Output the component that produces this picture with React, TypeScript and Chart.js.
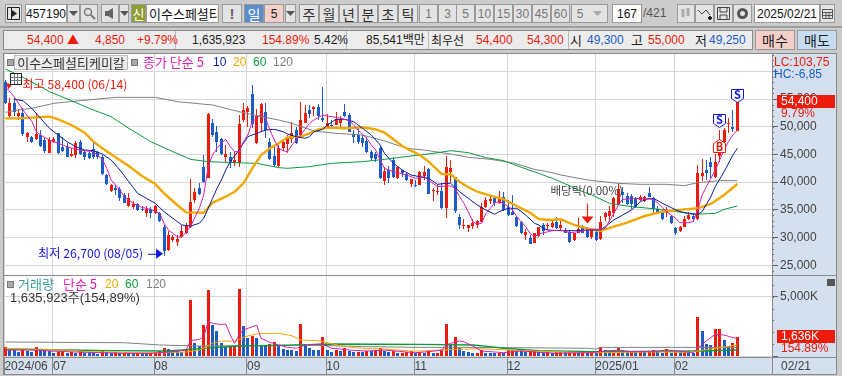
import React, { useEffect, useRef } from 'react';
import { Chart, registerables } from 'chart.js';
Chart.register(...registerables);

const FONT = '"Noto Sans CJK KR", "Noto Sans", sans-serif';
const NUM = '"Liberation Sans", "Noto Sans CJK KR", sans-serif';
const RED = '#ec1c0c';
const BLUE = '#1b5cc9';
const PANEL = '#d5e0ee';
const GRID = '#d6d6d6';
const C5 = '#d81fb0';
const C10 = '#0a1e9e';
const C20 = '#f0a800';
const C60 = '#0a9a3a';
const C120 = '#808080';

const opens = [58150,51950,54200,51950,52400,48200,48200,47700,48500,47600,45300,47300,48800,46400,46300,44700,44900,47300,45500,45200,45900,45500,44600,41300,38450,39000,38700,37650,35700,35550,36050,35100,34500,35100,34350,34350,31950,27750,29550,29250,30050,30750,31850,36750,39000,42650,40800,50600,49000,47800,44500,44450,43400,43400,51200,52600,55900,47000,50600,52600,47300,44700,42900,46100,46900,47700,49400,48500,50700,53000,53250,53600,51550,49700,50350,50350,50700,52600,52100,48600,48500,48000,47400,45400,45100,46200,40200,42200,44000,40700,42200,41450,39650,39500,39500,41150,42350,38450,38200,38450,35400,41800,40850,33750,32150,31800,32050,32250,32850,35450,36650,37050,36150,37350,35450,34600,33750,32750,30400,30000,28950,30250,32300,32000,31950,32850,31650,31350,31050,29550,30900,32050,31550,30050,31050,29700,33750,33950,34350,36000,38250,37500,37500,37050,36750,36650,38100,37050,35100,34850,34350,33900,31650,31150,31950,33300,33900,33300,41100,42200,43700,40950,44700,47300,50500,50000,49300];
const highs = [58400,55100,55100,53150,53300,49100,48300,52400,49400,47900,48100,48100,48900,48200,47000,46100,47400,47600,45800,45500,47500,45700,44900,41500,39650,39500,39050,37950,38100,36650,36200,35700,35700,35550,35850,34650,32250,31250,30450,30450,32250,32550,40550,38850,39750,44900,52400,51350,50200,47900,46700,45350,45500,52100,54350,53750,57500,53150,54200,54200,47900,46500,46700,47600,48500,50900,50000,54400,53900,53900,53750,54100,57100,52250,51200,52600,51950,54100,52400,49400,50300,48500,48100,45800,45500,46400,42650,42900,44500,42900,42200,41600,40500,40400,42050,42900,42500,39000,39650,39750,44700,44000,40950,34250,33350,32250,33250,33150,36300,37350,37650,37350,38400,38150,36750,37650,33900,32950,31450,30450,30900,31850,32550,32700,33250,33750,33150,31650,31350,30900,33450,32250,31950,31450,31250,33900,34650,35700,37350,39750,39050,37950,37800,37250,37650,37500,39050,37250,35700,34950,35550,34050,31850,32050,33900,34650,34500,43100,44100,44000,44450,45100,49400,49700,51500,53000,55000];
const lows = [54100,51800,51950,51200,48300,47300,47000,47600,46400,45300,45200,47000,45100,45500,44500,44500,44300,44900,44000,44100,44100,44100,41300,39550,38300,37700,36650,36150,35550,35100,34850,34800,33750,33600,34250,32850,26700,27600,29250,28550,29850,30650,31650,36300,37650,39750,40700,48100,45500,44900,43700,42600,42900,42800,50900,50000,49800,46900,49000,47900,44000,42650,42650,45700,45300,47000,46900,48200,50600,51500,51950,51200,50900,49500,49700,50250,50000,51800,49000,47000,46900,46400,45200,44000,43700,40550,39500,39900,40700,40550,40850,40200,39200,39050,39400,40400,37800,36600,37650,35100,33600,39800,34500,31550,31550,31050,31450,31750,32750,35400,36050,35700,36050,34850,33900,34000,31950,30650,29550,28850,28950,30150,30400,31400,31650,31500,31350,30750,29050,29450,30750,30750,29850,29700,29450,29550,33050,32850,33650,35850,36150,35850,35100,35250,36650,36450,37250,34050,34350,33150,33750,32450,30450,31000,31850,33150,32850,33150,40250,40400,40700,40700,43700,47000,48800,49100,49250];
const closes = [54200,54200,52700,52550,48700,48800,47300,48700,46500,45600,47600,47700,45300,45700,44600,45100,47000,45100,44600,44300,44500,44500,41500,39650,39500,38600,37050,36300,37050,36050,34950,34950,35100,34500,35700,33000,27600,30450,30100,29750,31250,32250,36450,38150,37800,40100,52300,48500,47300,45050,45100,43400,44000,50400,53000,53300,50500,52000,54100,49400,44250,43000,46100,47200,48200,48900,47000,51200,52500,52250,53500,52000,51200,50600,50200,51350,51400,51950,49100,48100,47200,47000,45500,44300,44100,40700,42000,40700,40850,42650,41600,40400,40500,39350,41750,41750,37850,38650,38450,35400,42800,42550,34850,32250,32250,32250,32650,32950,35450,36800,36900,36150,36950,34950,34050,34150,32150,30750,30950,28850,30900,31850,31250,32200,32550,31650,32250,30850,29250,30750,31550,30900,30150,31350,29550,32750,34350,34850,37050,38700,37650,36050,36050,35550,37250,37350,37350,35100,34600,33300,34650,32650,30850,31850,33300,34050,33300,41600,41600,41600,42650,43700,45500,49400,50700,49550,54400];

const ma5: [number, number][] = [[0,57230],[2,55420],[4,53000],[6,51000],[7,49100],[8,48500],[10,47600],[12,47000],[14,46400],[16,45920],[18,45670],[20,45490],[22,44110],[23,42490],[24,40380],[26,38570],[27,37370],[29,36170],[31,35440],[33,35080],[35,34360],[36,32560],[37,31350],[39,30150],[40,30030],[42,31960],[44,35270],[45,37670],[46,42790],[47,44890],[48,46100],[49,47000],[50,47720],[51,46400],[52,45490],[53,45490],[54,47300],[55,48500],[56,50910],[57,51510],[58,52290],[59,51510],[60,49400],[61,47600],[62,46100],[63,45670],[64,45490],[65,46700],[67,48500],[69,50610],[70,51210],[72,52110],[73,51930],[75,51690],[77,51330],[78,51090],[79,50310],[80,49400],[82,47900],[83,46700],[84,45790],[85,43990],[86,42490],[88,41880],[89,41700],[91,41280],[93,40680],[95,40980],[96,40380],[98,39180],[100,39300],[101,39300],[102,38870],[103,37370],[104,36170],[105,34660],[106,32860],[107,32440],[108,32560],[109,34360],[110,35270],[111,36290],[112,36470],[113,36170],[114,35570],[115,34970],[116,33760],[117,32860],[118,31960],[119,30750],[120,30150],[121,30630],[124,31230],[126,31350],[128,30870],[130,31050],[132,31350],[134,31470],[136,31650],[138,34360],[139,35870],[140,36890],[143,37070],[145,36950],[147,36890],[148,36170],[150,34660],[152,33460],[153,32680],[155,32680],[156,32860],[157,34960],[158,37670],[159,39180],[161,42190],[162,43990],[163,45790],[164,47300],[165,48500],[166,49400]];
const ma10: [number, number][] = [[2,54940],[4,54700],[6,53320],[8,51510],[10,49710],[12,48500],[14,47300],[16,46400],[18,45790],[20,45670],[22,45070],[24,43990],[26,42190],[28,40080],[30,37970],[32,37070],[34,36170],[36,34660],[38,33460],[40,32260],[42,32080],[44,32560],[45,33460],[46,35270],[47,37070],[48,38870],[49,40380],[50,42190],[51,43690],[53,45790],[55,48200],[57,48800],[59,49400],[61,49530],[63,49100],[64,48680],[66,48200],[68,47900],[69,48200],[70,49100],[72,49530],[73,50310],[75,51330],[77,51330],[79,50910],[81,49710],[83,48500],[85,46700],[86,45190],[88,43390],[90,42190],[92,41280],[94,40980],[96,40680],[98,39600],[100,39780],[101,39780],[103,38270],[105,37070],[107,35870],[109,34960],[111,34180],[112,34660],[114,35270],[116,35270],[118,34060],[120,32560],[121,32260],[122,31650],[123,31350],[126,31230],[129,31230],[132,31350],[135,31350],[136,31960],[138,33160],[140,34060],[142,34960],[144,36470],[146,37070],[147,37070],[149,36170],[151,35390],[153,34660],[155,34360],[157,34180],[158,34660],[160,37370],[161,39180],[163,41880],[165,44890],[166,46100]];
const ma20: [number, number][] = [[0,51510],[3,51510],[6,51630],[10,51810],[12,51330],[15,50310],[18,48920],[20,47300],[22,46100],[25,44470],[28,42910],[31,41100],[34,39660],[36,37970],[39,35870],[41,34540],[45,34480],[47,36290],[50,37370],[52,38270],[54,39780],[56,42490],[58,44890],[60,46100],[62,47000],[64,48080],[67,48200],[69,48800],[71,49530],[73,49830],[77,49710],[81,49890],[84,49530],[86,48920],[88,47720],[90,46520],[92,45670],[94,44890],[96,43690],[99,41460],[101,41400],[103,40080],[105,39060],[107,38270],[110,37550],[113,36890],[116,35690],[119,34480],[121,33340],[123,33160],[126,33280],[129,32260],[132,31650],[135,31230],[138,31960],[141,32680],[145,33880],[149,34660],[154,35080],[157,35270],[160,36050],[163,37670],[166,39660]];
const ma60: [number, number][] = [[0,60420],[3,59330],[8,57230],[10,56320],[15,54700],[19,53320],[24,51810],[28,49710],[33,47300],[38,45490],[42,44110],[46,43690],[52,43510],[57,43390],[62,42610],[64,42490],[69,42790],[74,43390],[81,43690],[86,44110],[92,44710],[97,45190],[101,45670],[105,45310],[109,44410],[113,43870],[117,42670],[121,41580],[125,40380],[130,38570],[133,37670],[137,36170],[142,35570],[146,35270],[151,34850],[156,34180],[161,34360],[163,35080],[166,35690]];
const ma120: [number, number][] = [[0,52590],[3,53020],[6,53320],[11,54220],[17,54700],[25,55300],[34,55300],[39,54520],[47,53920],[53,52710],[60,51510],[62,51210],[65,50610],[70,49220],[75,48800],[81,48500],[86,47420],[91,46100],[95,45790],[101,45070],[105,44470],[110,44110],[115,43510],[120,42300],[123,41880],[126,41280],[132,40380],[139,39780],[144,39600],[150,39600],[154,39360],[157,39900],[162,40260],[166,40260]];

const volume = [780,520,480,300,560,380,370,720,500,480,390,230,340,420,280,300,260,420,280,270,260,170,380,320,280,300,230,290,260,230,290,270,240,290,340,420,640,560,460,430,300,480,4680,1080,850,2600,5550,2600,2100,1070,730,730,850,5650,2530,1490,1720,1490,930,850,1010,1200,930,560,500,480,420,2700,930,650,500,480,1570,500,360,500,420,700,420,370,370,340,420,380,500,650,420,370,450,280,280,360,390,230,300,280,500,280,280,500,2700,930,1630,700,420,310,280,280,500,280,270,260,290,225,500,530,430,390,340,380,400,330,270,330,270,300,360,300,300,330,300,300,280,300,270,730,500,420,500,700,500,365,400,300,330,300,380,500,310,250,590,280,420,400,430,300,280,3300,2100,1010,930,2270,2280,1350,850,1070,1636];
const volMa5: [number, number][] = [[0,500],[4,500],[7,500],[10,420],[14,365],[18,310],[22,280],[27,225],[33,225],[38,365],[41,500],[42,1300],[44,1400],[45,1630],[46,2900],[47,2750],[49,2650],[50,2700],[51,1770],[52,1070],[53,1770],[54,2200],[56,2470],[57,2600],[58,1500],[60,1150],[62,930],[64,730],[66,650],[68,930],[70,980],[72,1010],[74,650],[76,590],[78,500],[82,420],[86,500],[90,365],[93,280],[96,365],[99,500],[100,930],[101,1070],[103,1260],[104,1200],[106,840],[108,420],[113,280],[117,420],[121,310],[125,225],[133,280],[136,420],[139,500],[142,365],[147,365],[150,500],[154,365],[156,280],[157,650],[159,1290],[161,1830],[163,1770],[165,1550],[166,1490]];
const volMa20: [number, number][] = [[0,650],[3,590],[9,560],[14,500],[18,365],[24,340],[29,280],[36,280],[41,340],[44,500],[47,1070],[49,1260],[52,1260],[55,1690],[57,1850],[59,1910],[62,1910],[65,1710],[67,1350],[71,1290],[73,1120],[77,790],[81,650],[86,590],[92,420],[94,420],[99,500],[102,560],[108,620],[114,500],[120,420],[127,310],[134,280],[141,310],[147,340],[155,310],[157,420],[161,650],[166,930]];
const volMa60: [number, number][] = [[0,590],[14,500],[24,450],[37,420],[44,620],[53,840],[63,900],[74,1010],[94,980],[106,930],[110,790],[113,650],[121,450],[134,365],[157,420],[166,500]];
const volMa120: [number, number][] = [[0,1180],[27,1120],[35,930],[44,840],[67,930],[82,790],[94,730],[106,730],[132,650],[134,590],[135,730],[157,730],[166,730]];

const monthBars = [0, 11, 34, 55, 73, 93, 114, 134, 152];
const monthLabels = ['2024/06', '07', '08', '09', '10', '11', '12', '2025/01', '02'];
const priceTicks = [25000, 30000, 35000, 40000, 45000, 50000, 55000, 60000];
const volumeTicks = [0, 5000];
const signals = [
  { bar: 166, price: 54400, kind: 'S' },
  { bar: 162, price: 50000, kind: 'S' },
  { bar: 162, price: 47720, kind: 'B' },
];
const highMark = { bar: 0, price: 58400, text: '최고 58,400 (06/14)' };
const lowMark = { bar: 36, price: 26700, text: '최저 26,700 (08/05)' };
const dividend = { bar: 132, price: 32550, text: '배당락(0.00%)' };

const xMin = -0.295;
const xMax = 173.86;
const barXs = opens.map((_, i) => i);
const xScale = (withLabels: boolean) => ({
  type: 'linear',
  min: xMin,
  max: xMax,
  offset: false,
  bounds: 'data',
  afterBuildTicks: (s: any) => {
    s.ticks = monthBars.map((v) => ({ value: v - 0.2 }));
  },
  afterFit: (s: any) => {
    s.height = withLabels ? 18 : 0;
    s.paddingLeft = 0;
    s.paddingRight = 0;
  },
  grid: { color: GRID, offset: false, drawTicks: withLabels, tickLength: 18, tickColor: '#8a8a8a' },
  border: { display: false },
  ticks: withLabels
    ? {
        display: true,
        autoSkip: false,
        maxRotation: 0,
        minRotation: 0,
        align: 'start',
        padding: -16,
        color: '#444',
        font: { family: NUM, size: 12 },
        callback: (_: any, i: number) => monthLabels[i],
      }
    : { display: false },
});
const yFit = (s: any) => {
  s.width = 65;
  s.paddingTop = 0;
  s.paddingBottom = 0;
};

const snapBars = {
  id: 'snapBars',
  beforeDatasetsDraw(chart: any) {
    chart.data.datasets.forEach((ds: any, idx: number) => {
      if (ds.type === 'line') return;
      chart.getDatasetMeta(idx).data.forEach((el: any) => {
        el.x = Math.floor(el.x) + 0.5;
        el.y = Math.round(el.y);
        el.base = Math.round(el.base);
        if (el.y === el.base) el.base = el.y + 1;
      });
    });
  },
};

const frame = (minorStep: number, yId: string, drawExtra: (c: any, ctx: CanvasRenderingContext2D) => void) => ({
  id: 'frame',
  beforeDraw(chart: any) {
    const { ctx, chartArea: a, width, height } = chart;
    ctx.save();
    ctx.fillStyle = PANEL;
    ctx.fillRect(a.right, 0, width - a.right, height);
    if (height > a.bottom) ctx.fillRect(0, a.bottom, width, height - a.bottom);
    ctx.restore();
  },
  afterDraw(chart: any) {
    const { ctx, chartArea: a, width, height } = chart;
    const s = chart.scales[yId];
    ctx.save();
    ctx.strokeStyle = '#666';
    ctx.lineWidth = 1;
    ctx.beginPath();
    for (let v = Math.ceil(s.min / minorStep) * minorStep; v < s.max; v += minorStep) {
      const y = Math.round(s.getPixelForValue(v)) + 0.5;
      ctx.moveTo(a.right, y);
      ctx.lineTo(a.right + 2, y);
    }
    ctx.stroke();
    drawExtra(chart, ctx);
    ctx.strokeStyle = '#8a8a8a';
    ctx.beginPath();
    ctx.moveTo(0.5, 0);
    ctx.lineTo(0.5, height);
    ctx.moveTo(a.right + 0.5, 0);
    ctx.lineTo(a.right + 0.5, height);
    ctx.moveTo(width - 0.5, 0);
    ctx.lineTo(width - 0.5, height);
    if (height > a.bottom) {
      ctx.moveTo(0, a.bottom + 0.5);
      ctx.lineTo(width, a.bottom + 0.5);
      ctx.moveTo(0, height - 0.5);
      ctx.lineTo(width, height - 0.5);
    }
    ctx.moveTo(0, 0.5);
    ctx.lineTo(width, 0.5);
    ctx.stroke();
    ctx.restore();
  },
});

const lastBox = (ctx: CanvasRenderingContext2D, a: any, y: number, label: string, sub: string) => {
  const top = Math.round(y) - 7;
  ctx.fillStyle = RED;
  ctx.fillRect(a.right + 5, top, 58, 13);
  ctx.textBaseline = 'middle';
  ctx.textAlign = 'left';
  ctx.font = `12px ${NUM}`;
  ctx.fillStyle = '#fff';
  ctx.fillText(label, a.right + 9, top + 7);
  ctx.fillStyle = RED;
  ctx.fillText(sub, a.right + 9, top + 19);
};

const drawPriceExtras = (chart: any, ctx: CanvasRenderingContext2D) => {
  const x = chart.scales.x;
  const y = chart.scales.y;
  const a = chart.chartArea;
  const hx = x.getPixelForValue(highMark.bar);
  const hy = y.getPixelForValue(highMark.price);
  ctx.font = `12.2px ${FONT}`;
  ctx.textBaseline = 'middle';
  ctx.textAlign = 'left';
  ctx.fillStyle = RED;
  ctx.fillText(highMark.text, hx + 17, hy + 4);
  ctx.beginPath();
  ctx.moveTo(hx + 1, hy + 3);
  ctx.lineTo(hx + 7, hy + 4);
  ctx.lineTo(hx + 3, hy + 9);
  ctx.closePath();
  ctx.fill();
  const lx = x.getPixelForValue(lowMark.bar);
  const ly = y.getPixelForValue(lowMark.price);
  ctx.fillStyle = '#1414e0';
  ctx.fillText(lowMark.text, lx - 126, ly - 2);
  ctx.fillRect(lx - 16, ly - 2, 10, 1);
  ctx.beginPath();
  ctx.moveTo(lx - 1, ly - 2);
  ctx.lineTo(lx - 8, ly - 7);
  ctx.lineTo(lx - 8, ly + 3);
  ctx.closePath();
  ctx.fill();
  const dx = Math.floor(x.getPixelForValue(dividend.bar)) + 0.5;
  const dy = y.getPixelForValue(dividend.price);
  ctx.fillStyle = '#444';
  ctx.font = `11.5px ${FONT}`;
  ctx.fillText(dividend.text, dx - 37, dy - 33);
  ctx.fillStyle = RED;
  ctx.fillRect(dx - 0.5, dy - 20, 1, 14);
  ctx.beginPath();
  ctx.moveTo(dx, dy);
  ctx.lineTo(dx - 6, dy - 7);
  ctx.lineTo(dx + 6, dy - 7);
  ctx.closePath();
  ctx.fill();
  signals.forEach((s) => {
    const sx = Math.floor(x.getPixelForValue(s.bar)) + 0.5;
    const sy = Math.round(y.getPixelForValue(s.price));
    const dir = s.kind === 'S' ? -1 : 1;
    const c = s.kind === 'S' ? '#1414e0' : RED;
    ctx.beginPath();
    ctx.moveTo(sx, sy + 0.5);
    ctx.lineTo(sx - 6, sy + dir * 4 + 0.5);
    ctx.lineTo(sx - 6, sy + dir * 13 + 0.5);
    ctx.lineTo(sx + 6, sy + dir * 13 + 0.5);
    ctx.lineTo(sx + 6, sy + dir * 4 + 0.5);
    ctx.closePath();
    ctx.fillStyle = '#fff';
    ctx.fill();
    ctx.strokeStyle = c;
    ctx.lineWidth = 1;
    ctx.stroke();
    ctx.fillStyle = c;
    ctx.font = `bold 11px ${FONT}`;
    ctx.textAlign = 'center';
    ctx.fillText(s.kind, sx, sy + dir * 7.5);
    ctx.textAlign = 'left';
  });
  lastBox(ctx, a, y.getPixelForValue(closes[closes.length - 1]), '54,400', '9.79%');
};

const drawVolExtras = (chart: any, ctx: CanvasRenderingContext2D) => {
  const y = chart.scales.y;
  lastBox(ctx, chart.chartArea, y.getPixelForValue(volume[volume.length - 1]), '1,636K', '154.89%');
};

const line = (label: string, color: string, pts: [number, number][], width = 1) => ({
  type: 'line',
  label,
  data: pts.map(([x, y]) => ({ x, y })),
  borderColor: color,
  borderWidth: width,
  pointRadius: 0,
  tension: 0,
  order: 1,
});

const T = ({ x, y, c = '#222', s = 12, f = FONT, w, children }: any) => (
  <div
    style={{
      position: 'absolute',
      left: x,
      top: y,
      color: c,
      fontSize: s,
      fontFamily: f,
      fontWeight: w,
      lineHeight: '16px',
      whiteSpace: 'nowrap',
      zIndex: 3,
    }}
  >
    {children}
  </div>
);

const B = ({ x, y = 4, w, h = 19, bg = '#e3e3e3', c = '#333', s = 14, f = FONT, children }: any) => (
  <div
    style={{
      position: 'absolute',
      left: x,
      top: y,
      width: w,
      height: h,
      boxSizing: 'border-box',
      border: '1px solid #9a9a9a',
      background: bg,
      color: c,
      fontSize: s,
      fontFamily: f,
      display: 'flex',
      alignItems: 'center',
      justifyContent: 'center',
      overflow: 'hidden',
      whiteSpace: 'nowrap',
      zIndex: 3,
    }}
  >
    {children}
  </div>
);

const Tri = ({ c = '#555' }: any) => (
  <svg width="9" height="5">
    <path d="M0 0H9L4.5 5Z" fill={c} />
  </svg>
);

const Square = ({ x, y }: any) => (
  <div
    style={{
      position: 'absolute',
      left: x,
      top: y,
      width: 5,
      height: 5,
      background: '#aaa',
      border: '1px solid #777',
      zIndex: 3,
    }}
  />
);

export default function App() {
  const priceRef = useRef<HTMLCanvasElement>(null);
  const volRef = useRef<HTMLCanvasElement>(null);

  useEffect(() => {
    const priceChart = new Chart(priceRef.current as any, {
      type: 'bar',
      data: {
        datasets: [
          line('MA5', C5, ma5),
          line('MA10', C10, ma10),
          line('MA20', C20, ma20, 2.4),
          line('MA60', C60, ma60),
          line('MA120', C120, ma120),
          {
            label: 'body',
            order: 2,
            grouped: false,
            barThickness: 3,
            inflateAmount: 0,
            data: barXs.map((i) => ({ x: i, y: [opens[i], closes[i]] })),
            backgroundColor: barXs.map((i) => (closes[i] >= opens[i] ? RED : BLUE)),
          },
          {
            label: 'wick',
            order: 3,
            grouped: false,
            barThickness: 1,
            inflateAmount: 0,
            data: barXs.map((i) => ({ x: i, y: [lows[i], highs[i]] })),
            backgroundColor: barXs.map((i) => (closes[i] >= opens[i] ? RED : BLUE)),
          },
        ] as any,
      },
      options: {
        animation: false,
        responsive: false,
        layout: { padding: { left: 1, top: 0, right: 0, bottom: 0 } },
        plugins: { legend: { display: false }, tooltip: { enabled: false } },
        scales: {
          x: xScale(false),
          y: {
            position: 'right',
            min: 23232,
            max: 63303,
            afterBuildTicks: (s: any) => {
              s.ticks = priceTicks.map((value) => ({ value }));
            },
            afterFit: yFit,
            grid: { color: GRID, tickLength: 6, tickColor: '#666' },
            border: { display: false },
            ticks: {
              padding: 2,
              autoSkip: false,
              color: '#444',
              font: { family: NUM, size: 12 },
              callback: (v: any) => (v <= 55000 ? Number(v).toLocaleString('en-US') : ''),
            },
          },
        } as any,
      },
      plugins: [snapBars, frame(1000, 'y', drawPriceExtras)],
    });

    const volChart = new Chart(volRef.current as any, {
      type: 'bar',
      data: {
        datasets: [
          line('V5', C5, volMa5),
          line('V20', C20, volMa20),
          line('V60', C60, volMa60, 1.4),
          line('V120', C120, volMa120),
          {
            label: 'volume',
            order: 2,
            grouped: false,
            barThickness: 3,
            inflateAmount: 0,
            data: barXs.map((i) => ({ x: i, y: volume[i] })),
            backgroundColor: barXs.map((i) => (i === 0 || volume[i] >= volume[i - 1] ? RED : BLUE)),
          },
        ] as any,
      },
      options: {
        animation: false,
        responsive: false,
        layout: { padding: { left: 1, top: 0, right: 0, bottom: 0 } },
        plugins: { legend: { display: false }, tooltip: { enabled: false } },
        scales: {
          x: xScale(true),
          y: {
            position: 'right',
            min: -84,
            max: 6830,
            afterBuildTicks: (s: any) => {
              s.ticks = volumeTicks.map((value) => ({ value }));
            },
            afterFit: yFit,
            grid: { color: GRID, tickLength: 6, tickColor: '#666' },
            border: { display: false },
            ticks: {
              padding: 2,
              autoSkip: false,
              color: '#444',
              font: { family: NUM, size: 12 },
              callback: (v: any) => (v === 5000 ? '5,000K' : ''),
            },
          },
        } as any,
      },
      plugins: [snapBars, frame(1000, 'y', drawVolExtras)],
    });

    return () => {
      priceChart.destroy();
      volChart.destroy();
    };
  }, []);

  return (
    <div
      style={{
        position: 'fixed',
        left: 0,
        top: 0,
        width: 842,
        height: 376,
        background: '#cbcbcb',
        overflow: 'hidden',
      }}
    >
      <div style={{ position: 'absolute', left: 0, top: 26, width: 842, height: 2, background: '#a0a0a0' }} />

      <B x={5} w={17}>
        <svg width="13" height="13">
          <path d="M0.5 0.5H12.5V12.5H0.5Z M4.5 0.5V12.5" fill="none" stroke="#222" />
          <path d="M5 3L10 6.5L5 10Z" fill="#222" />
        </svg>
      </B>
      <B x={25} w={42} bg="#fff" c="#111" f={NUM} s={12}>457190</B>
      <B x={67} w={13}><Tri /></B>
      <B x={80} w={18}>
        <svg width="13" height="13">
          <circle cx="5" cy="5" r="3.5" fill="none" stroke="#777" strokeWidth="1.5" />
          <path d="M8 8L12 12" stroke="#777" strokeWidth="2" />
        </svg>
      </B>
      <B x={101} w={18}>
        <svg width="13" height="13">
          <path d="M1 4H4L9 1V12L4 9H1Z" fill="#666" />
        </svg>
      </B>
      <B x={119} w={10}><Tri /></B>
      <B x={131} w={15} bg="#8f9e30" c="#fff" s={13}>신</B>
      <div style={{ position: 'absolute', left: 146, top: 4, width: 73, height: 19, background: '#fff', border: '1px solid #9a9a9a', boxSizing: 'border-box', overflow: 'hidden', zIndex: 3, fontFamily: FONT, fontSize: 13, lineHeight: '17px', whiteSpace: 'nowrap', color: '#111', paddingLeft: 2 }}>
        이수스페셜티케미칼
      </div>
      <B x={222} w={20} s={15} c="#666" f={NUM}><b>!</b></B>
      <B x={244} w={20} bg="#5b8bc9" c="#fff">일</B>
      <B x={264} w={20} bg="#f4cfc9" c="#222" f={NUM} s={12}>5</B>
      <B x={285} w={11}><Tri /></B>
      <B x={299} w={20}>주</B>
      <B x={319} w={20}>월</B>
      <B x={339} w={19}>년</B>
      <B x={358} w={20}>분</B>
      <B x={378} w={20}>초</B>
      <B x={398} w={20}>틱</B>
      {[['1', 419], ['3', 438], ['5', 456], ['10', 475], ['15', 494], ['30', 513], ['45', 532], ['60', 551]].map(([t, x]) => (
        <B key={String(x)} x={x} w={19} c="#777" f={NUM} s={12}>{t}</B>
      ))}
      <B x={571} w={37} c="#777" f={NUM} s={12}>5&nbsp;&nbsp;&nbsp;<Tri c="#aaa" /></B>
      <B x={612} w={30} bg="#fff" c="#111" f={NUM} s={12}>167</B>
      <T x={643} y={5} c="#555" s={12} f={NUM}>/421</T>
      <B x={677} w={18}>
        <svg width="13" height="13"><path d="M3 2V10M8 1V9" stroke="#aaa" strokeWidth="3" /></svg>
      </B>
      <B x={695} w={19}>
        <svg width="14" height="13"><path d="M0 3L4 7L8 3L12 8" fill="none" stroke="#444" /><path d="M10 11H14M12 9V13" stroke="#222" strokeWidth="2" /></svg>
      </B>
      <B x={714} w={19}>
        <svg width="13" height="13"><path d="M0.5 0.5H12.5V12.5H0.5Z M3 0.5V5H10V0.5 M3 12.5V8H10V12.5" fill="none" stroke="#444" /></svg>
      </B>
      <B x={733} w={19}>
        <svg width="13" height="13"><circle cx="6.5" cy="6.5" r="4" fill="none" stroke="#555" strokeWidth="3" /></svg>
      </B>
      <B x={754} w={66} bg="#fff" c="#111" f={NUM} s={12}>2025/02/21</B>
      <B x={820} w={15}>
        <svg width="11" height="10"><path d="M0.5 0.5H10.5V9.5H0.5Z M0.5 3.5H10.5 M4 3.5V9.5 M7 3.5V9.5 M0.5 6.5H10.5" fill="none" stroke="#555" /></svg>
      </B>

      <div style={{ position: 'absolute', left: 3, top: 30, width: 750, height: 20, boxSizing: 'border-box', background: '#ececec', border: '1px solid #8a8a8a' }} />
      <div style={{ position: 'absolute', left: 175, top: 31, width: 1, height: 18, background: '#bbb' }} />
      <div style={{ position: 'absolute', left: 346, top: 31, width: 1, height: 18, background: '#bbb' }} />
      <div style={{ position: 'absolute', left: 428, top: 31, width: 1, height: 18, background: '#bbb' }} />
      <div style={{ position: 'absolute', left: 568, top: 31, width: 1, height: 18, background: '#bbb' }} />
      <T x={27} y={32} c={RED} f={NUM}>54,400</T>
      <T x={67} y={32} c={RED} s={12}>▲</T>
      <T x={95} y={32} c={RED} f={NUM}>4,850</T>
      <T x={137} y={32} c={RED} f={NUM}>+9.79%</T>
      <T x={192} y={32} f={NUM}>1,635,923</T>
      <T x={262} y={32} c={RED} f={NUM}>154.89%</T>
      <T x={314} y={32} f={NUM}>5.42%</T>
      <T x={366} y={32} s={12} f={NUM}>85,541백만</T>
      <T x={431} y={32} s={12}>최우선</T>
      <T x={476} y={32} c={RED} f={NUM}>54,400</T>
      <T x={527} y={32} c={RED} f={NUM}>54,300</T>
      <T x={570} y={32} s={13}>시</T>
      <T x={587} y={32} c={BLUE} f={NUM}>49,300</T>
      <T x={631} y={32} s={13}>고</T>
      <T x={648} y={32} c={RED} f={NUM}>55,000</T>
      <T x={695} y={32} s={13}>저</T>
      <T x={709} y={32} c={BLUE} f={NUM}>49,250</T>
      <B x={755} y={30} w={40} h={20} bg="#f4cfc9" c="#222" s={14}>매수</B>
      <B x={797} y={30} w={40} h={20} bg="#c5dcf2" c="#222" s={14}>매도</B>

      <div style={{ position: 'absolute', left: 3, top: 53, width: 834, height: 322, background: '#fff' }} />
      <canvas ref={priceRef} width={834} height={222} style={{ position: 'absolute', left: 3, top: 53, display: 'block' }} />
      <canvas ref={volRef} width={834} height={100} style={{ position: 'absolute', left: 3, top: 275, display: 'block' }} />

      <Square x={7} y={59} />
      <div style={{ position: 'absolute', left: 14, top: 55, width: 114, height: 15, boxSizing: 'border-box', background: '#ececec', border: '1px solid #bbb', color: '#333', fontFamily: FONT, fontSize: 13, lineHeight: '13px', textAlign: 'center', whiteSpace: 'nowrap', zIndex: 3 }}>
        이수스페셜티케미칼
      </div>
      <Square x={131} y={59} />
      <T x={143} y={54} c={C5} s={13}>종가 단순 5</T>
      <T x={213} y={54} c={C10} f={NUM}>10</T>
      <T x={233} y={54} c={C20} f={NUM}>20</T>
      <T x={253} y={54} c={C60} f={NUM}>60</T>
      <T x={273} y={54} c={C120} f={NUM}>120</T>
      <div style={{ position: 'absolute', left: 10, top: 73, width: 12, height: 12, boxSizing: 'border-box', background: '#fff', border: '1px solid #222', zIndex: 3 }}>
        <svg width="10" height="10" style={{ display: 'block' }}>
          <path d="M0 3.5H10M0 6.5H10M3.5 0V10M6.5 0V10" stroke="#777" />
        </svg>
      </div>
      <T x={774} y={54} c={RED} s={12} f={NUM}>LC:103,75</T>
      <T x={774} y={66} c={BLUE} s={12} f={NUM}>HC:-6,85</T>

      <Square x={7} y={281} />
      <T x={18} y={276} c="#3a9a9a" s={13}>거래량</T>
      <T x={63} y={276} c={C5} s={13}>단순 5</T>
      <T x={105} y={276} c={C20} f={NUM}>20</T>
      <T x={125} y={276} c={C60} f={NUM}>60</T>
      <T x={146} y={276} c={C120} f={NUM}>120</T>
      <T x={10} y={290} c="#333" s={13} f={NUM}>1,635,923주(154,89%)</T>
      <div style={{ position: 'absolute', left: 827, top: 279, width: 8, height: 7, background: '#555', zIndex: 3 }} />
      <T x={781} y={358} c="#444" s={12} f={NUM}>02/21</T>
    </div>
  );
}
